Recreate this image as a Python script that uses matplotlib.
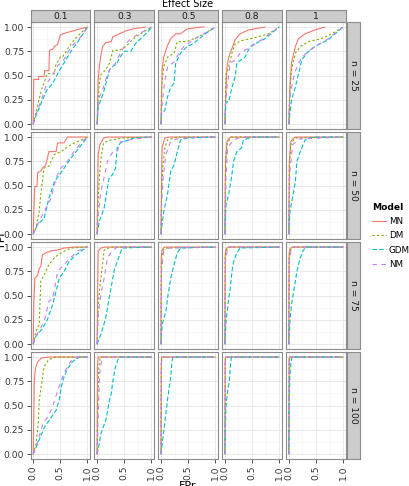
import matplotlib
matplotlib.use("Agg")
import matplotlib.pyplot as plt
from matplotlib.lines import Line2D

# facets
effects = ["0.1", "0.3", "0.5", "0.8", "1"]
sizes = ["n = 25", "n = 50", "n = 75", "n = 100"]
models = ["MN", "DM", "GDM", "NM"]
colors = {"MN": "#F8766D", "DM": "#7CAE00", "GDM": "#00BFC4", "NM": "#C77CFF"}
dashes = {"MN": None, "DM": (2, 2), "GDM": (4, 2), "NM": (4, 4)}

xticks = [0.0, 0.5, 1.0]
xticklabels = ["0.0", "0.5", "1.0"]
yticks = [0.0, 0.25, 0.5, 0.75, 1.0]
yticklabels = ["0.00", "0.25", "0.50", "0.75", "1.00"]

# ROC curves, (FPr, TPr), one list per effect size
n25_MN = [
    [(0, 0), (0, 0.1), (0.01, 0.46), (0.1, 0.46), (0.1, 0.49), (0.2, 0.49), (0.21, 0.55), (0.29, 0.55),
     (0.3, 0.76), (0.36, 0.77), (0.39, 0.8), (0.45, 0.82), (0.48, 0.88), (0.5, 0.92), (0.6, 0.94),
     (0.73, 0.96), (0.85, 0.98), (1, 1)],
    [(0, 0), (0.02, 0.45), (0.04, 0.59), (0.07, 0.71), (0.1, 0.8), (0.16, 0.84), (0.26, 0.85), (0.29, 0.9),
     (0.41, 0.93), (0.53, 0.96), (0.65, 0.98), (0.89, 1)],
    [(0, 0), (0.02, 0.56), (0.05, 0.69), (0.12, 0.81), (0.18, 0.88), (0.27, 0.93), (0.36, 0.93),
     (0.48, 0.98), (0.73, 1), (0.79, 1)],
    [(0, 0), (0.02, 0.38), (0.04, 0.59), (0.07, 0.69), (0.13, 0.78), (0.19, 0.87), (0.28, 0.93),
     (0.43, 0.97), (0.74, 1)],
    [(0, 0), (0.02, 0.38), (0.05, 0.63), (0.12, 0.8), (0.18, 0.88), (0.3, 0.93), (0.48, 0.97), (0.66, 1)],
]
n25_DM = [
    [(0, 0), (0.05, 0.12), (0.15, 0.35), (0.26, 0.52), (0.39, 0.52), (0.41, 0.6), (0.5, 0.69), (0.54, 0.69),
     (0.66, 0.8), (0.76, 0.87), (0.88, 0.94), (1, 1)],
    [(0, 0), (0.02, 0.25), (0.04, 0.42), (0.07, 0.51), (0.16, 0.56), (0.23, 0.63), (0.29, 0.76), (0.41, 0.76),
     (0.53, 0.8), (0.65, 0.87), (0.77, 0.92), (1, 1)],
    [(0, 0), (0.01, 0.38), (0.05, 0.59), (0.12, 0.69), (0.24, 0.73), (0.3, 0.85), (0.48, 0.85), (0.6, 0.88),
     (0.79, 0.93), (1, 1)],
    [(0, 0), (0.02, 0.52), (0.07, 0.59), (0.13, 0.73), (0.19, 0.83), (0.31, 0.86), (0.55, 0.89),
     (0.8, 0.93), (1, 1)],
    [(0, 0), (0.02, 0.35), (0.05, 0.56), (0.12, 0.73), (0.21, 0.8), (0.36, 0.85), (0.6, 0.88),
     (0.79, 0.93), (1, 1)],
]
n25_GDM = [
    [(0, 0), (0.05, 0.08), (0.15, 0.22), (0.25, 0.35), (0.36, 0.42), (0.48, 0.55), (0.6, 0.66),
     (0.73, 0.78), (0.85, 0.87), (1, 1)],
    [(0, 0), (0.02, 0.18), (0.07, 0.25), (0.13, 0.35), (0.23, 0.56), (0.32, 0.61), (0.35, 0.61),
     (0.41, 0.68), (0.5, 0.75), (0.62, 0.75), (0.71, 0.83), (0.84, 0.9), (1, 0.99)],
    [(0, 0), (0.01, 0.11), (0.07, 0.14), (0.12, 0.28), (0.18, 0.38), (0.24, 0.42), (0.27, 0.63),
     (0.36, 0.73), (0.48, 0.8), (0.6, 0.83), (0.79, 0.92), (1, 1)],
    [(0, 0), (0.02, 0.23), (0.07, 0.23), (0.13, 0.38), (0.19, 0.49), (0.22, 0.63), (0.37, 0.69),
     (0.43, 0.76), (0.49, 0.81), (0.74, 0.88), (1, 1)],
    [(0, 0), (0.02, 0.11), (0.05, 0.25), (0.12, 0.38), (0.18, 0.52), (0.24, 0.66), (0.33, 0.73),
     (0.48, 0.8), (0.73, 0.87), (1, 1)],
]
n25_NM = [
    [(0, 0), (0.05, 0.1), (0.15, 0.25), (0.25, 0.42), (0.35, 0.5), (0.45, 0.6), (0.55, 0.65),
     (0.7, 0.8), (0.85, 0.88), (1, 1)],
    [(0, 0), (0.02, 0.25), (0.1, 0.35), (0.16, 0.46), (0.23, 0.56), (0.32, 0.61), (0.41, 0.71),
     (0.53, 0.83), (0.62, 0.88), (0.77, 0.93), (1, 1)],
    [(0, 0), (0.02, 0.21), (0.07, 0.45), (0.12, 0.59), (0.24, 0.64), (0.33, 0.73), (0.42, 0.8),
     (0.6, 0.87), (0.79, 0.93), (1, 1)],
    [(0, 0), (0.01, 0.21), (0.04, 0.38), (0.1, 0.63), (0.19, 0.66), (0.28, 0.73), (0.43, 0.78),
     (0.68, 0.87), (1, 1)],
    [(0, 0), (0.02, 0.28), (0.09, 0.49), (0.15, 0.59), (0.24, 0.69), (0.36, 0.75), (0.48, 0.8),
     (0.73, 0.88), (1, 1)],
]

n50_MN = [
    [(0, 0), (0.01, 0.23), (0.03, 0.49), (0.07, 0.49), (0.08, 0.63), (0.14, 0.65), (0.17, 0.68),
     (0.23, 0.71), (0.29, 0.85), (0.42, 0.85), (0.45, 0.94), (0.57, 0.94), (0.63, 1), (1, 1)],
    [(0, 0), (0.01, 0.41), (0.02, 0.82), (0.05, 0.92), (0.12, 0.99), (0.19, 1), (1, 1)],
    [(0, 0), (0.01, 0.58), (0.02, 0.89), (0.07, 0.99), (0.15, 1), (1, 1)],
    [(0, 0), (0.01, 0.75), (0.04, 0.96), (0.1, 1), (1, 1)],
    [(0, 0), (0.01, 0.75), (0.04, 0.96), (0.12, 1), (1, 1)],
]
n50_DM = [
    [(0, 0), (0.05, 0.06), (0.11, 0.23), (0.14, 0.41), (0.2, 0.68), (0.29, 0.7), (0.39, 0.82),
     (0.51, 0.85), (0.69, 0.92), (0.88, 0.97), (1, 1)],
    [(0, 0), (0.01, 0.23), (0.04, 0.58), (0.08, 0.82), (0.12, 0.94), (0.25, 0.97), (0.49, 0.99), (1, 1)],
    [(0, 0), (0.01, 0.41), (0.03, 0.68), (0.07, 0.89), (0.12, 0.97), (0.3, 1), (1, 1)],
    [(0, 0), (0.01, 0.68), (0.04, 0.94), (0.12, 1), (1, 1)],
    [(0, 0), (0.01, 0.71), (0.04, 0.94), (0.13, 0.99), (1, 1)],
]
n50_GDM = [
    [(0, 0), (0.08, 0.1), (0.2, 0.16), (0.29, 0.37), (0.39, 0.54), (0.48, 0.61), (0.57, 0.68),
     (0.69, 0.78), (0.82, 0.87), (1, 1)],
    [(0, 0), (0.04, 0.13), (0.13, 0.27), (0.22, 0.58), (0.28, 0.61), (0.34, 0.68), (0.37, 0.89),
     (0.43, 0.94), (0.68, 0.99), (1, 1)],
    [(0, 0), (0.01, 0.06), (0.05, 0.23), (0.12, 0.41), (0.18, 0.65), (0.24, 0.71), (0.3, 0.85),
     (0.36, 0.97), (0.48, 0.99), (1, 1)],
    [(0, 0), (0.02, 0.3), (0.07, 0.41), (0.12, 0.58), (0.16, 0.75), (0.22, 0.85), (0.31, 0.89),
     (0.34, 0.97), (0.5, 1), (1, 1)],
    [(0, 0), (0.02, 0.23), (0.09, 0.44), (0.12, 0.54), (0.15, 0.75), (0.21, 0.85), (0.3, 0.97),
     (0.45, 1), (1, 1)],
]
n50_NM = [
    [(0, 0), (0.08, 0.1), (0.2, 0.23), (0.33, 0.37), (0.42, 0.58), (0.51, 0.68), (0.63, 0.75),
     (0.75, 0.85), (0.91, 0.96), (1, 1)],
    [(0, 0), (0.02, 0.2), (0.07, 0.44), (0.14, 0.61), (0.19, 0.75), (0.28, 0.84), (0.37, 0.85),
     (0.43, 0.95), (0.68, 0.98), (1, 1)],
    [(0, 0), (0.01, 0.3), (0.04, 0.58), (0.09, 0.82), (0.18, 0.96), (0.36, 0.99), (1, 1)],
    [(0, 0), (0.02, 0.58), (0.05, 0.89), (0.16, 0.97), (0.3, 1), (1, 1)],
    [(0, 0), (0.02, 0.64), (0.07, 0.92), (0.18, 0.98), (1, 1)],
]

n75_MN = [
    [(0, 0), (0.01, 0.41), (0.03, 0.68), (0.08, 0.71), (0.11, 0.78), (0.14, 0.8), (0.17, 0.92),
     (0.23, 0.94), (0.33, 0.96), (0.45, 0.97), (0.57, 0.99), (0.75, 1), (1, 1)],
    [(0, 0), (0.01, 0.58), (0.02, 0.96), (0.07, 0.99), (0.15, 1), (1, 1)],
    [(0, 0), (0.005, 0.89), (0.02, 0.97), (0.06, 1), (1, 1)],
    [(0, 0), (0.005, 0.93), (0.02, 0.98), (0.06, 1), (1, 1)],
    [(0, 0), (0.005, 0.93), (0.02, 0.98), (0.06, 1), (1, 1)],
]
n75_DM = [
    [(0, 0), (0.05, 0.13), (0.11, 0.2), (0.14, 0.65), (0.2, 0.71), (0.29, 0.82), (0.39, 0.89),
     (0.51, 0.94), (0.69, 0.99), (1, 1)],
    [(0, 0), (0.02, 0.41), (0.05, 0.58), (0.1, 0.82), (0.13, 0.97), (0.25, 1), (1, 1)],
    [(0, 0), (0.005, 0.82), (0.03, 0.96), (0.08, 0.99), (1, 1)],
    [(0, 0), (0.005, 0.9), (0.03, 0.97), (0.08, 1), (1, 1)],
    [(0, 0), (0.005, 0.9), (0.03, 0.97), (0.08, 1), (1, 1)],
]
n75_GDM = [
    [(0, 0), (0.05, 0.08), (0.17, 0.16), (0.26, 0.25), (0.36, 0.41), (0.42, 0.54), (0.48, 0.68),
     (0.57, 0.75), (0.66, 0.85), (0.79, 0.92), (0.91, 0.97), (1, 1)],
    [(0, 0), (0.07, 0.1), (0.16, 0.27), (0.22, 0.47), (0.28, 0.65), (0.31, 0.75), (0.37, 0.85),
     (0.46, 0.99), (1, 1)],
    [(0, 0), (0.02, 0.2), (0.09, 0.34), (0.13, 0.51), (0.18, 0.68), (0.24, 0.82), (0.3, 0.94),
     (0.36, 0.99), (1, 1)],
    [(0, 0), (0.02, 0.23), (0.07, 0.47), (0.1, 0.58), (0.13, 0.75), (0.16, 0.85), (0.22, 0.94),
     (0.28, 0.99), (1, 1)],
    [(0, 0), (0.02, 0.23), (0.05, 0.41), (0.1, 0.58), (0.15, 0.75), (0.21, 0.89), (0.27, 0.97),
     (0.33, 1), (1, 1)],
]
n75_NM = [
    [(0, 0), (0.05, 0.08), (0.2, 0.23), (0.29, 0.44), (0.36, 0.47), (0.45, 0.75), (0.57, 0.82),
     (0.69, 0.89), (0.82, 0.96), (1, 1)],
    [(0, 0), (0.02, 0.3), (0.07, 0.51), (0.13, 0.68), (0.19, 0.89), (0.28, 0.96), (0.37, 1), (1, 1)],
    [(0, 0), (0.01, 0.75), (0.05, 0.96), (0.15, 0.99), (1, 1)],
    [(0, 0), (0.01, 0.85), (0.04, 0.96), (0.1, 1), (1, 1)],
    [(0, 0), (0.01, 0.85), (0.04, 0.96), (0.1, 1), (1, 1)],
]

n100_MN = [
    [(0, 0), (0.01, 0.4), (0.02, 0.75), (0.04, 0.88), (0.08, 0.95), (0.15, 0.99), (0.3, 1), (1, 1)],
    [(0, 0), (0.005, 0.9), (0.02, 1), (1, 1)],
    [(0, 0), (0.005, 0.95), (0.01, 1), (1, 1)],
    [(0, 0), (0.005, 0.95), (0.01, 1), (1, 1)],
    [(0, 0), (0.005, 0.95), (0.01, 1), (1, 1)],
]
n100_DM = [
    [(0, 0), (0.05, 0.1), (0.09, 0.3), (0.11, 0.55), (0.16, 0.75), (0.2, 0.9), (0.28, 0.97),
     (0.4, 1), (1, 1)],
    [(0, 0), (0.01, 0.5), (0.03, 0.9), (0.06, 1), (1, 1)],
    [(0, 0), (0.005, 0.93), (0.015, 1), (1, 1)],
    [(0, 0), (0.005, 0.95), (0.01, 1), (1, 1)],
    [(0, 0), (0.005, 0.95), (0.01, 1), (1, 1)],
]
n100_GDM = [
    [(0, 0), (0.12, 0.16), (0.21, 0.28), (0.42, 0.45), (0.48, 0.56), (0.51, 0.66), (0.54, 0.75),
     (0.62, 0.87), (0.72, 0.95), (0.85, 1), (1, 1)],
    [(0, 0), (0.04, 0.11), (0.07, 0.21), (0.16, 0.35), (0.23, 0.56), (0.26, 0.62), (0.29, 0.75),
     (0.33, 0.88), (0.38, 0.97), (0.42, 1), (1, 1)],
    [(0, 0), (0.02, 0.1), (0.06, 0.28), (0.12, 0.56), (0.16, 0.72), (0.18, 0.8), (0.2, 0.95),
     (0.22, 1), (1, 1)],
    [(0, 0), (0.01, 0.3), (0.02, 0.5), (0.05, 0.65), (0.08, 0.75), (0.1, 0.9), (0.12, 1), (1, 1)],
    [(0, 0), (0.01, 0.6), (0.02, 0.8), (0.04, 0.95), (0.06, 1), (1, 1)],
]
n100_NM = [
    [(0, 0), (0.08, 0.12), (0.18, 0.32), (0.27, 0.38), (0.36, 0.49), (0.42, 0.6), (0.51, 0.75),
     (0.6, 0.87), (0.7, 0.96), (0.8, 1), (1, 1)],
    [(0, 0), (0.02, 0.4), (0.04, 0.75), (0.06, 0.9), (0.1, 1), (1, 1)],
    [(0, 0), (0.005, 0.9), (0.02, 1), (1, 1)],
    [(0, 0), (0.005, 0.93), (0.015, 1), (1, 1)],
    [(0, 0), (0.005, 0.93), (0.015, 1), (1, 1)],
]

curves = [
    {"MN": n25_MN, "DM": n25_DM, "GDM": n25_GDM, "NM": n25_NM},
    {"MN": n50_MN, "DM": n50_DM, "GDM": n50_GDM, "NM": n50_NM},
    {"MN": n75_MN, "DM": n75_DM, "GDM": n75_GDM, "NM": n75_NM},
    {"MN": n100_MN, "DM": n100_DM, "GDM": n100_GDM, "NM": n100_NM},
]

W, H = 409, 486
fig = plt.figure(figsize=(W / 100, H / 100), dpi=100)
plt.rcParams["font.family"] = "DejaVu Sans"


def box(l, t, w, h):
    # pixel box -> figure fraction
    return [l / W, 1 - (t + h) / H, w / W, h / H]


lefts = [30.5, 94.4, 158.3, 222.2, 286.1]
tops = [22.2, 132.2, 242.2, 352.2]
pw, ph = 59.7, 106.7
border = "#8C8C8C"
grid = "#E5E5E5"
fs = 6.6

for r in range(4):
    for c in range(5):
        ax = fig.add_axes(box(lefts[c], tops[r], pw, ph))
        ax.set_xlim(-0.05, 1.05)
        ax.set_ylim(-0.05, 1.05)
        ax.set_xticks(xticks)
        ax.set_yticks(yticks)
        ax.set_xticks([0.25, 0.75], minor=True)
        ax.set_yticks([0.125, 0.375, 0.625, 0.875], minor=True)
        ax.grid(True, which="major", color=grid, lw=0.6)
        ax.grid(True, which="minor", color="#F5F5F5", lw=0.5)
        ax.set_axisbelow(True)
        ax.tick_params(which="minor", length=0)
        ax.tick_params(which="major", length=3, width=0.6, color="#333333",
                       labelsize=fs, labelcolor="#333333", pad=1.5)
        for s in ax.spines.values():
            s.set_color(border)
            s.set_linewidth(0.8)
        if c == 0:
            ax.set_yticklabels(yticklabels)
        else:
            ax.tick_params(axis="y", left=False, labelleft=False)
        if r == 3:
            ax.set_xticklabels(xticklabels, rotation=90, va="top")
        else:
            ax.tick_params(axis="x", bottom=False, labelbottom=False)
        for m in models:
            pts = curves[r][m][c]
            xs = [p[0] for p in pts]
            ys = [p[1] for p in pts]
            ln, = ax.plot(xs, ys, color=colors[m], lw=0.8)
            if dashes[m] is not None:
                ln.set_dashes(dashes[m])

# column strips
for c in range(5):
    sx = fig.add_axes(box(lefts[c], 10.2, pw, 12))
    sx.set_facecolor("#CCCCCC")
    sx.set_xticks([])
    sx.set_yticks([])
    for s in sx.spines.values():
        s.set_color(border)
        s.set_linewidth(0.8)
    sx.text(0.5, 0.5, effects[c], ha="center", va="center", fontsize=fs, color="#1A1A1A",
            transform=sx.transAxes)

# row strips
for r in range(4):
    sy = fig.add_axes(box(347, tops[r], 13, ph))
    sy.set_facecolor("#CCCCCC")
    sy.set_xticks([])
    sy.set_yticks([])
    for s in sy.spines.values():
        s.set_color(border)
        s.set_linewidth(0.8)
    sy.text(0.5, 0.5, sizes[r], ha="center", va="center", rotation=-90, fontsize=fs,
            color="#1A1A1A", transform=sy.transAxes)

fig.text(188 / W, 1 - 4 / H, "Effect Size", ha="center", va="center", fontsize=7)
fig.text(188 / W, 1 - 481 / H, "FPr", ha="center", va="top", fontsize=8)
fig.text(2 / W, 1 - 240 / H, "TPr", ha="center", va="center", rotation=90, fontsize=8)

handles = []
for m in models:
    h = Line2D([], [], color=colors[m], lw=0.8)
    if dashes[m] is not None:
        h.set_dashes(dashes[m])
    handles.append(h)
leg = fig.legend(handles, models, loc="upper left", bbox_to_anchor=(370 / W, 1 - 201 / H),
                 frameon=False, fontsize=6.3, title="Model", title_fontsize=6.6,
                 handlelength=1.6, handletextpad=0.35, labelspacing=0.6, borderpad=0.2,
                 borderaxespad=0)
leg.get_title().set_fontweight("bold")
leg._legend_box.align = "left"

fig.savefig("out.png", dpi=100)
